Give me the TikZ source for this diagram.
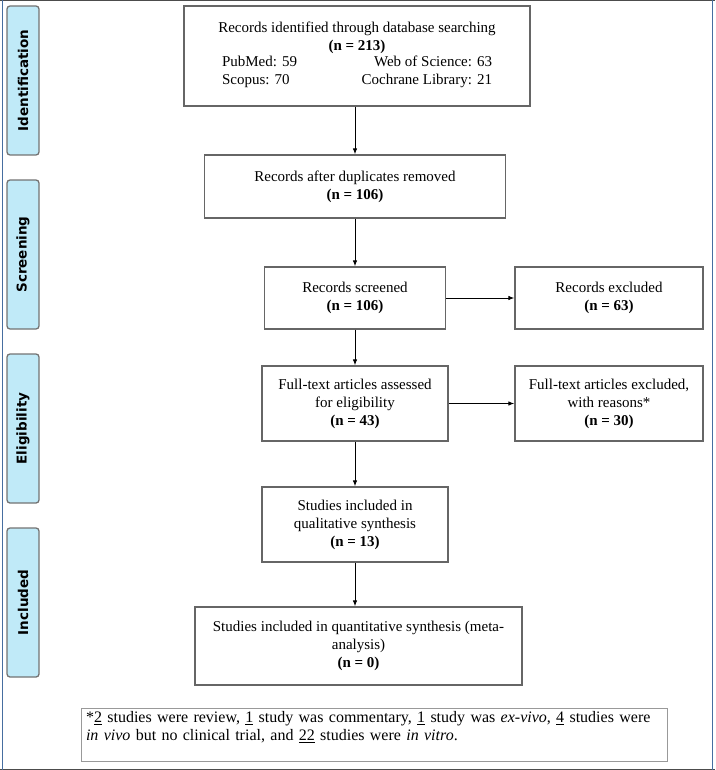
\documentclass[tikz,border=0pt]{standalone}
\usepackage{fontspec}
\setmainfont{Liberation Serif}
\newfontfamily\phasefont{DejaVu Sans}
\usetikzlibrary{arrows.meta, positioning}
\definecolor{tabblue}{RGB}{192,234,248}
\definecolor{edgeblue}{RGB}{70,110,160}

\tikzset{
  flowbox/.style={draw=black!60, line width=1.3pt, align=center, inner sep=2pt,
    font=\fontsize{15}{18}\selectfont},
  phase/.style={draw=black!55, line width=1.3pt, fill=tabblue, rounded corners=3pt,
    rotate=90, minimum width=149pt, minimum height=32pt,
    font=\phasefont\bfseries\fontsize{13.5}{16}\selectfont},
  link/.style={-{Latex[length=6pt,width=4.5pt]}, line width=0.9pt}
}

\begin{document}
\begin{tikzpicture}[x=1pt, y=-1pt]
    \useasboundingbox (0,0) rectangle (715,770);
    % outer frame
    \draw[black!70, line width=1.5pt] (0,0.75) -- (715,0.75);
    \draw[black!70, line width=1.5pt] (0,769.25) -- (715,769.25);
    \draw[edgeblue, line width=1.5pt] (2.5,0) -- (2.5,770);
    \draw[edgeblue, line width=1.5pt] (712.5,0) -- (712.5,770);

    % phase tabs
    \node[phase] (tabid) at (23,80.5) {Identification};
    \node[phase] (tabscr) at (23,254.5) {Screening};
    \node[phase] (tabel) at (23,428.5) {Eligibility};
    \node[phase] (tabinc) at (23,602.5) {Included};

    % main column
    \node[flowbox, minimum width=346pt, minimum height=100pt] (ident) at (357,56)
        {Records identified through database searching\\
         \textbf{(n = 213)}\\
         \begin{tabular*}{270pt}{@{}l@{\extracolsep{\fill}}r@{}}
         PubMed: 59 & Web of Science: 63\\
         Scopus: 70 & Cochrane Library: 21
         \end{tabular*}};
    \node[flowbox, minimum width=301pt, minimum height=63pt] (dup) at (355,186.5)
        {Records after duplicates removed\\ \textbf{(n = 106)}};
    \node[flowbox, minimum width=181pt, minimum height=62pt] (scr) at (355,298)
        {Records screened\\ \textbf{(n = 106)}};
    \node[flowbox, minimum width=186pt, minimum height=75pt] (full) at (355,403.5)
        {Full-text articles assessed\\ for eligibility\\ \textbf{(n = 43)}};
    \node[flowbox, minimum width=186pt, minimum height=75pt] (qual) at (355,524.5)
        {Studies included in\\ qualitative synthesis\\ \textbf{(n = 13)}};
    \node[flowbox, minimum width=327pt, minimum height=78pt] (meta) at (358.5,646)
        {Studies included in quantitative synthesis (meta-\\ analysis)\\ \textbf{(n = 0)}};

    % exclusions
    \node[flowbox, minimum width=188pt, minimum height=62pt] (excl) at (609,298)
        {Records excluded\\ \textbf{(n = 63)}};
    \node[flowbox, minimum width=188pt, minimum height=75pt] (fexcl) at (609,403.5)
        {Full-text articles excluded,\\ with reasons*\\ \textbf{(n = 30)}};

    % footnote
    \node[draw=black!40, line width=1pt, text width=576pt, align=left,
          inner xsep=5pt, inner ysep=3pt,
          font=\fontsize{16}{18}\selectfont] (note) at (374,735)
        {*\underline{2} studies were review, \underline{1} study was commentary, \underline{1} study was \textit{ex-vivo}, \underline{4} studies were\\
         \textit{in vivo} but no clinical trial, and \underline{22} studies were \textit{in vitro}.\\ \mbox{}};

    % arrows
    \draw[link] (ident.south -| dup.north) -- (dup.north);
    \draw[link] (dup.south) -- (scr.north);
    \draw[link] (scr.south) -- (full.north);
    \draw[link] (full.south) -- (qual.north);
    \draw[link] (qual.south) -- (qual.south |- meta.north);
    \draw[link] (scr.east) -- (excl.west);
    \draw[link] (full.east) -- (fexcl.west);
\end{tikzpicture}
\end{document}
